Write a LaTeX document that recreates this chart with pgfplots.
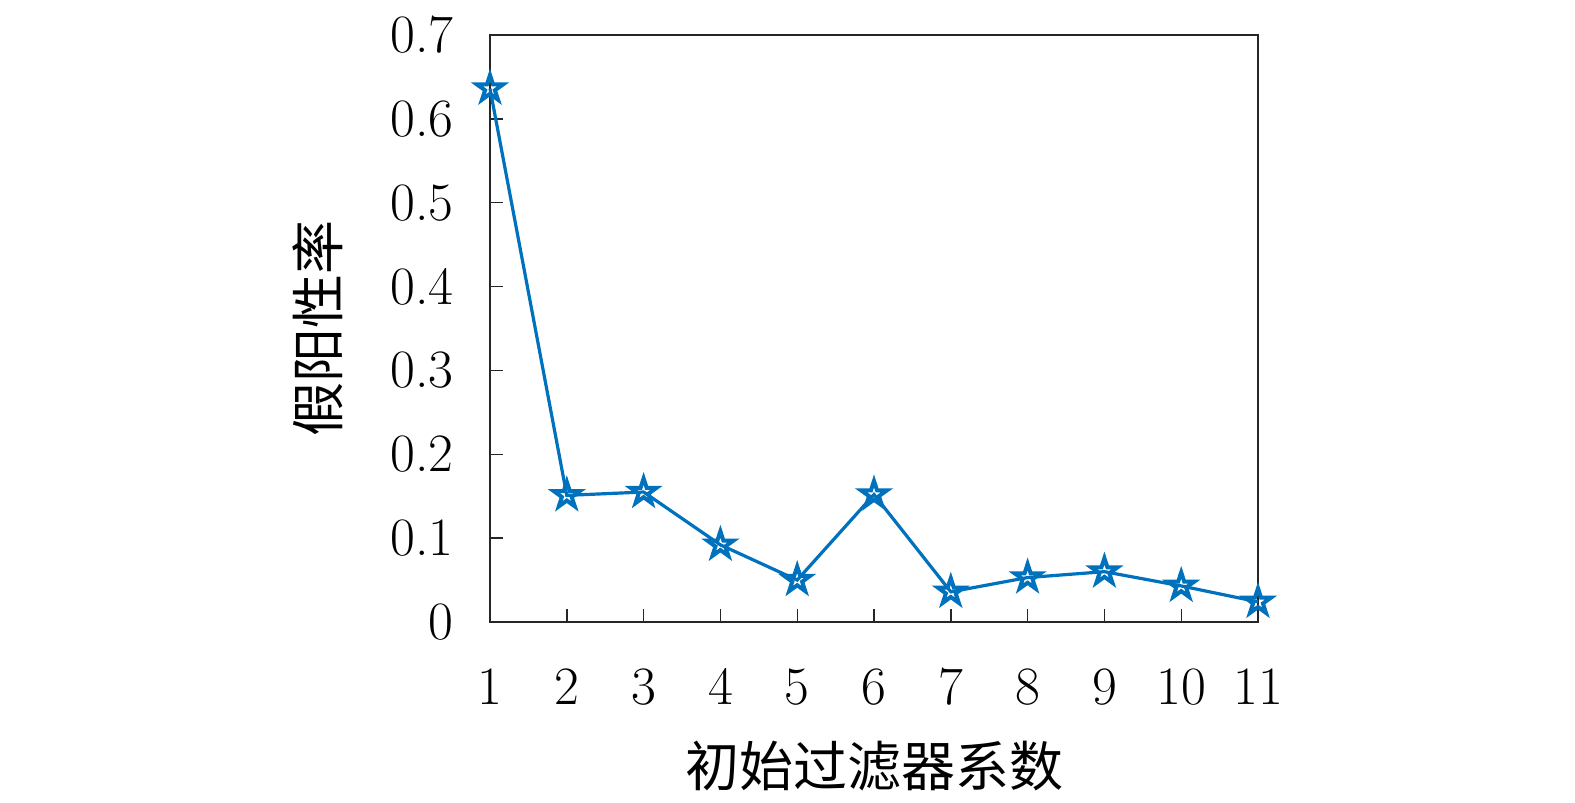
\documentclass[border=0pt]{standalone}
\usepackage{fontspec}
\usepackage{pgfplots}
\pgfplotsset{compat=1.18}
\newfontfamily\cjk{Noto Sans CJK SC}
\definecolor{mblue}{RGB}{0,114,189}
\definecolor{axgray}{RGB}{38,38,38}
\pgfdeclareplotmark{pentagram}{%
  \pgfpathmoveto{\pgfqpointpolar{90}{\pgfplotmarksize}}%
  \pgfpathlineto{\pgfqpointpolar{126}{0.382\pgfplotmarksize}}%
  \pgfpathlineto{\pgfqpointpolar{162}{\pgfplotmarksize}}%
  \pgfpathlineto{\pgfqpointpolar{198}{0.382\pgfplotmarksize}}%
  \pgfpathlineto{\pgfqpointpolar{234}{\pgfplotmarksize}}%
  \pgfpathlineto{\pgfqpointpolar{270}{0.382\pgfplotmarksize}}%
  \pgfpathlineto{\pgfqpointpolar{306}{\pgfplotmarksize}}%
  \pgfpathlineto{\pgfqpointpolar{342}{0.382\pgfplotmarksize}}%
  \pgfpathlineto{\pgfqpointpolar{18}{\pgfplotmarksize}}%
  \pgfpathlineto{\pgfqpointpolar{54}{0.382\pgfplotmarksize}}%
  \pgfpathclose
  \pgfusepathqstroke}
\begin{document}
\fontsize{27}{32}\selectfont
\begin{tikzpicture}
\path[use as bounding box] (0,0) rectangle (787.5pt,401.5pt);
\begin{axis}[
  at={(245pt,90.5pt)}, anchor=south west,
  width=384pt, height=293.5pt, scale only axis,
  xmin=1, xmax=11, ymin=0, ymax=0.7,
  xtick={1,2,3,4,5,6,7,8,9,10,11},
  ytick={0,0.1,0.2,0.3,0.4,0.5,0.6,0.7},
  yticklabels={0,0.1,0.2,0.3,0.4,0.5,0.6,0.7},
  /pgf/number format/assume math mode=true,
  tick pos=left, tick align=inside,
  major tick length=6.5pt,
  axis line style={axgray, line width=0.9pt},
  every tick/.style={axgray, line width=0.7pt},
  tick label style={font=\fontsize{27}{32}\selectfont, text=black},
  xticklabel style={yshift=-14pt},
  yticklabel style={xshift=-9pt},
  xlabel={\cjk 初始过滤器系数},
  ylabel={\cjk 假阳性率},
  label style={font=\fontsize{27}{32}\selectfont},
  xlabel style={at={(axis description cs:0.5,-0.245)}, anchor=center},
  ylabel style={at={(axis description cs:-0.224,0.5)}, anchor=center, rotate=0},
  clip=false,
]
\addplot[mblue, line width=1.6pt, mark=pentagram, mark size=6.8pt,
  mark options={line width=2pt, line join=miter}] coordinates {
  (1,0.636) (2,0.151) (3,0.155) (4,0.092) (5,0.050) (6,0.152)
  (7,0.036) (8,0.053) (9,0.060) (10,0.043) (11,0.024)
};
\end{axis}
\end{tikzpicture}
\end{document}
